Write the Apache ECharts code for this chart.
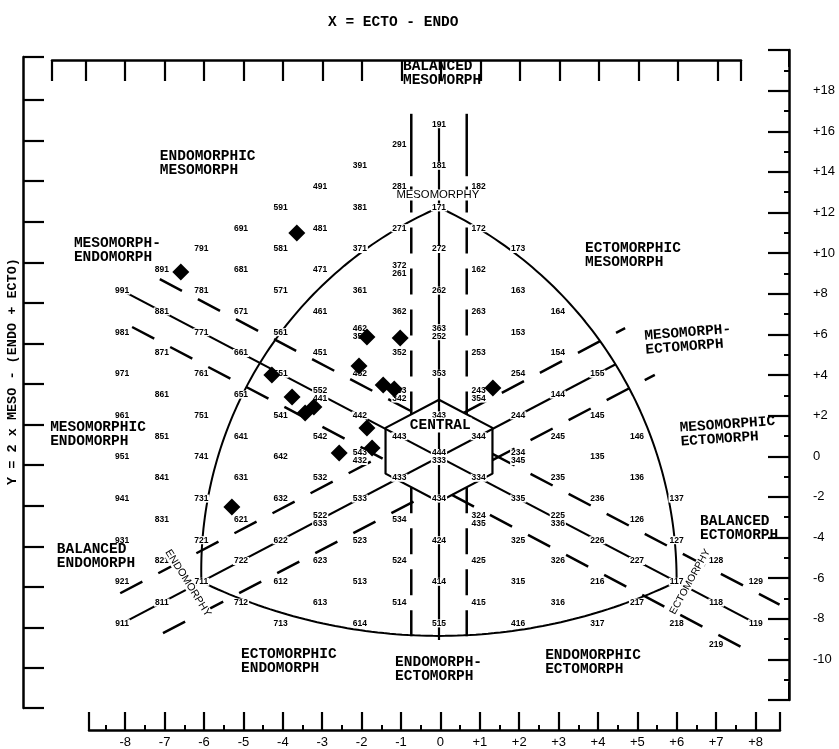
<!DOCTYPE html>
<html><head><meta charset="utf-8">
<script src="https://cdn.jsdelivr.net/npm/echarts@6/dist/echarts.min.js"></script>
<style>html,body{margin:0;padding:0;background:#fff}#c{width:839px;height:749px}</style>
</head><body><div id="c"></div>
<script>
// ================= DATA =================
// somatotype reference labels: [label, X = ECTO - ENDO, Y = 2*MESO - (ENDO+ECTO)]
const somatotypes = [
  ['191',0,16],
  ['291',-1,15],
  ['391',-2,14],['181',0,14],
  ['491',-3,13],['281',-1,13],['182',1,13],
  ['591',-4,12],['381',-2,12],['171',0,12],
  ['691',-5,11],['481',-3,11],['271',-1,11],['172',1,11],
  ['791',-6,10],['581',-4,10],['371',-2,10],['272',0,10],['173',2,10],
  ['891',-7,9],['681',-5,9],['471',-3,9],['372\n261',-1,9],['162',1,9],
  ['991',-8,8],['781',-6,8],['571',-4,8],['361',-2,8],['262',0,8],['163',2,8],
  ['881',-7,7],['671',-5,7],['461',-3,7],['362',-1,7],['263',1,7],['164',3,7],
  ['981',-8,6],['771',-6,6],['561',-4,6],['462\n351',-2,6],['363\n252',0,6],['153',2,6],
  ['871',-7,5],['661',-5,5],['451',-3,5],['352',-1,5],['253',1,5],['154',3,5],
  ['971',-8,4],['761',-6,4],['551',-4,4],['452',-2,4],['353',0,4],['254',2,4],['155',4,4],
  ['861',-7,3],['651',-5,3],['552\n441',-3,3],['453\n342',-1,3],['243\n354',1,3],['144',3,3],
  ['961',-8,2],['751',-6,2],['541',-4,2],['442',-2,2],['343',0,2],['244',2,2],['145',4,2],
  ['851',-7,1],['641',-5,1],['542',-3,1],['443',-1,1],['344',1,1],['245',3,1],['146',5,1],
  ['951',-8,0],['741',-6,0],['642',-4,0],['543\n432',-2,0],['444\n333',0,0],['234\n345',2,0],['135',4,0],
  ['841',-7,-1],['631',-5,-1],['532',-3,-1],['433',-1,-1],['334',1,-1],['235',3,-1],['136',5,-1],
  ['941',-8,-2],['731',-6,-2],['632',-4,-2],['533',-2,-2],['434',0,-2],['335',2,-2],['236',4,-2],['137',6,-2],
  ['831',-7,-3],['621',-5,-3],['522\n633',-3,-3],['534',-1,-3],['324\n435',1,-3],['225\n336',3,-3],['126',5,-3],
  ['931',-8,-4],['721',-6,-4],['622',-4,-4],['523',-2,-4],['424',0,-4],['325',2,-4],['226',4,-4],['127',6,-4],
  ['821',-7,-5],['722',-5,-5],['623',-3,-5],['524',-1,-5],['425',1,-5],['326',3,-5],['227',5,-5],['128',7,-5],
  ['921',-8,-6],['711',-6,-6],['612',-4,-6],['513',-2,-6],['414',0,-6],['315',2,-6],['216',4,-6],['117',6,-6],['129',8,-6],
  ['811',-7,-7],['712',-5,-7],['613',-3,-7],['514',-1,-7],['415',1,-7],['316',3,-7],['217',5,-7],['118',7,-7],
  ['911',-8,-8],['713',-4,-8],['614',-2,-8],['515',0,-8],['416',2,-8],['317',4,-8],['218',6,-8],['119',8,-8],
  ['219',7,-9]
];

// plotted subjects (black diamonds)
const subjectX = [-6.52, -3.59, -1.82, -0.98, -2.02, -4.22, -1.41, -1.13, -3.71, -3.16, -3.38, -1.82, -1.69, -2.52, -5.23, 1.36];
const subjectY = [ 8.90, 10.77,  5.77,  5.72,  4.38,  3.94,  3.46,  3.27,  2.88,  2.40,  2.12,  1.39,  0.43,  0.19, -2.40, 3.32];

// region names
const regionNames = [
  'BALANCED\nMESOMORPH','ENDOMORPHIC\nMESOMORPH','MESOMORPH-\nENDOMORPH','ECTOMORPHIC\nMESOMORPH',
  'MESOMORPH-\nECTOMORPH','MESOMORPHIC\nECTOMORPH','MESOMORPHIC\nENDOMORPH','BALANCED\nENDOMORPH',
  'BALANCED\nECTOMORPH','ECTOMORPHIC\nENDOMORPH','ENDOMORPH-\nECTOMORPH','ENDOMORPHIC\nECTOMORPH'
];
const axisNames = ['MESOMORPHY','ENDOMORPHY','ECTOMORPHY'];
const centralName = 'CENTRAL';

// tick labels
const xTicks = [-8,-7,-6,-5,-4,-3,-2,-1,0,1,2,3,4,5,6,7,8];
const yTicks = [-10,-8,-6,-4,-2,0,2,4,6,8,10,12,14,16,18];
const titleX = 'X = ECTO - ENDO';
const titleY = 'Y = 2 x MESO - (ENDO + ECTO)';

// ================= GEOMETRY / LAYOUT =================
const ORX = 439, ORY = 457, PXX = 39.6, PXY = 20.8, W = 839, H = 749;
// somatochart frame: vertices 711, 171, 117 and a point on each arc
const arcs = [
  {from:[-6,-6], via:[-5.03,2.74], to:[0,12]},
  {from:[0,12],  via:[4.95,2.75],  to:[6,-6]},
  {from:[-6,-6], via:[0,-8.6],     to:[6,-6]}
];
// spokes through the centre
const spokes = [
  [[0,16],[0,-8.8]],
  [[-8,8],[8,-8]],
  [[-8,-8],[4.45,4.45]]
];
// boundaries X+Y=c  : [c, xFrom, xTo]
const downBounds = [[1.5,-7.05,-0.625],[1.5,1.35,8.6],[-1.5,-7.75,-1.35],[-1.5,0.325,7.85]];
// boundaries Y-X=d  : [d, xFrom, xTo]
const upBounds = [[1.5,-8.05,-1.35],[1.5,0.625,4.7],[-1.5,-6.97,-0.325],[-1.5,1.35,5.45]];
// vertical boundaries: [x, yTop, yBottom, dashed]
const vBounds = [
  [-0.7,16.5,13.5,false],[-0.7,13.0,2.05,true],[-0.7,-1.45,-8.9,true],
  [0.7,16.5,13.5,false],[0.7,13.0,2.05,true],[0.7,-1.45,-8.9,true]
];
const hexagon = [[0,2.75],[1.35,1.4],[1.35,-0.8],[0,-2.15],[-1.35,-0.8],[-1.35,1.4],[0,2.75]];
const regionLayout = [
  [-0.91,18.46,0],[-7.05,14.13,0],[-9.22,9.95,0],[3.69,9.71,0],
  [5.2,5.48,4.5],[6.09,1.06,4],[-9.82,1.1,0],[-9.65,-4.76,0],
  [6.59,-3.41,0],[-5.0,-9.81,0],[-1.11,-10.19,0],[2.68,-9.86,0]
];
const axisNameLayout = [[-0.03,12.6,0,11.3],[-6.34,-6.06,-58,10.6],[6.34,-6.0,61,10.2]];
const centralLayout = [0.03,1.54];

function arcPoints(a) {
  const A=[a.from[0]*PXX,a.from[1]*PXY], B=[a.via[0]*PXX,a.via[1]*PXY], C=[a.to[0]*PXX,a.to[1]*PXY];
  const d = 2*(A[0]*(B[1]-C[1]) + B[0]*(C[1]-A[1]) + C[0]*(A[1]-B[1]));
  const sa=A[0]*A[0]+A[1]*A[1], sb=B[0]*B[0]+B[1]*B[1], sc=C[0]*C[0]+C[1]*C[1];
  const ux = (sa*(B[1]-C[1]) + sb*(C[1]-A[1]) + sc*(A[1]-B[1]))/d;
  const uy = (sa*(C[0]-B[0]) + sb*(A[0]-C[0]) + sc*(B[0]-A[0]))/d;
  const r = Math.hypot(A[0]-ux, A[1]-uy);
  const norm = t => { while(t<0) t+=2*Math.PI; while(t>=2*Math.PI) t-=2*Math.PI; return t; };
  const a1=Math.atan2(A[1]-uy,A[0]-ux), am=Math.atan2(B[1]-uy,B[0]-ux), a2=Math.atan2(C[1]-uy,C[0]-ux);
  const d12=norm(a2-a1), d1m=norm(am-a1);
  const sweep = d1m < d12 ? d12 : d12-2*Math.PI;
  const pts=[];
  for (let i=0;i<=80;i++){ const t=a1+sweep*i/80; pts.push([(ux+r*Math.cos(t))/PXX,(uy+r*Math.sin(t))/PXY]); }
  return pts;
}

const INK = '#000';
function lineSeries(points, type, width) {
  return {type:'line', xAxisIndex:0, yAxisIndex:0, data:points, symbol:'none', silent:true,
    animation:false, z:2, lineStyle:{color:INK, width:width, type:type, cap:'butt', opacity:1}};
}

const series = [];
arcs.forEach(a => series.push(lineSeries(arcPoints(a),'solid',2)));
spokes.forEach(s => series.push(lineSeries(s,'solid',2.2)));
downBounds.forEach(b => series.push(lineSeries([[b[1],b[0]-b[1]],[b[2],b[0]-b[2]]],[25,18],2.5)));
upBounds.forEach(b => series.push(lineSeries([[b[1],b[0]+b[1]],[b[2],b[0]+b[2]]],[25,18],2.5)));
vBounds.forEach(v => series.push(lineSeries([[v[0],v[1]],[v[0],v[2]]], v[3]?[26,15]:'solid', 2.5)));
series.push(lineSeries(hexagon,'solid',2.2));

const clear = {color:'rgba(0,0,0,0)', opacity:1};
// somatotype labels
series.push({type:'scatter', xAxisIndex:0, yAxisIndex:0, silent:true, animation:false, z:3,
  symbolSize:1, itemStyle:clear,
  data: somatotypes.map(s => ({name:s[0], value:[s[1],s[2]]})),
  label:{show:true, position:'inside', formatter:'{b}', color:'#000', fontFamily:'Liberation Sans',
    fontWeight:'bold', fontSize:8.5, lineHeight:8, backgroundColor:'#fff', padding:[0,1]}
});
// region names
series.push({type:'scatter', xAxisIndex:0, yAxisIndex:0, silent:true, animation:false, z:3,
  symbolSize:1, itemStyle:clear,
  data: regionNames.map((n,i) => ({name:n, value:[regionLayout[i][0],regionLayout[i][1]], label:{rotate:regionLayout[i][2]}})),
  label:{show:true, position:'inside', align:'left', verticalAlign:'middle', formatter:'{b}', color:'#000',
    fontFamily:'Liberation Mono', fontWeight:'bold', fontSize:14.5, lineHeight:14}
});
// axis names inside chart
series.push({type:'scatter', xAxisIndex:0, yAxisIndex:0, silent:true, animation:false, z:3,
  symbolSize:1, itemStyle:clear,
  data: axisNames.map((n,i) => ({name:n, value:[axisNameLayout[i][0],axisNameLayout[i][1]],
     label:{rotate:axisNameLayout[i][2], fontSize:axisNameLayout[i][3]}})),
  label:{show:true, position:'inside', align:'center', verticalAlign:'middle', formatter:'{b}', color:'#000',
    fontFamily:'Liberation Sans', backgroundColor:'#fff', padding:[0,1]}
});
series.push({type:'scatter', xAxisIndex:0, yAxisIndex:0, silent:true, animation:false, z:3,
  symbolSize:1, itemStyle:clear,
  data:[{name:centralName, value:centralLayout}],
  label:{show:true, position:'inside', formatter:'{b}', color:'#000', fontFamily:'Liberation Mono',
    fontWeight:'bold', fontSize:14.5, backgroundColor:'#fff', padding:[0,1]}
});
// subjects
series.push({type:'scatter', xAxisIndex:0, yAxisIndex:0, silent:true, animation:false, z:5,
  symbol:'diamond', symbolSize:17, itemStyle:{color:'#000', opacity:1},
  data: subjectX.map((x,i) => [x, subjectY[i]])
});

const fmtSigned = v => v > 0 ? '+' + v : String(v);
const hiddenX = i => ({type:'value', gridIndex:i, show:false, min:0, max:1, splitLine:{show:false}});
const hiddenY = i => ({type:'value', gridIndex:i, show:false, min:0, max:1, splitLine:{show:false}});
const lineSt = {show:true, lineStyle:{color:INK, width:2.5}};

const topMin = -9.85, topMax = 7.59;
const botMin = -8.92, botMax = 8.62;
const leftMin = -11.97, leftMax = 20.12;

const option = {
  backgroundColor:'#fff',
  animation:false,
  title:{text:titleX, left:323, top:10, textStyle:{fontFamily:'Liberation Mono', fontSize:14.5, fontWeight:'bold', color:'#000'}},
  grid:[
    {left:0, right:0, top:0, bottom:0},
    {left:52, right:W-741, top:36, height:24},
    {left:89, right:W-780, bottom:H-730, height:24},
    {left:23, width:22, top:57, bottom:H-708},
    {left:789, right:W-810, top:50, bottom:H-700}
  ],
  xAxis:[
    {type:'value', gridIndex:0, show:false, min:-ORX/PXX, max:(W-ORX)/PXX, splitLine:{show:false}},
    {type:'value', gridIndex:1, position:'top', min:topMin, max:topMax, splitLine:{show:false},
      axisLine:lineSt, axisLabel:{show:false},
      axisTick:{show:true, inside:true, length:21, lineStyle:{color:INK, width:2.2},
        customValues:[topMin].concat([-9].concat(xTicks.filter(v=>v<8)), [topMax])}},
    {type:'value', gridIndex:2, position:'bottom', min:botMin, max:botMax, splitLine:{show:false},
      axisLine:lineSt,
      axisTick:{show:true, inside:true, length:18, lineStyle:{color:INK, width:2.2},
        customValues:[botMin].concat(xTicks, [botMax])},
      axisLabel:{show:true, customValues:xTicks, formatter:fmtSigned, margin:6,
        fontFamily:'Liberation Sans', fontSize:13, color:'#000'}},
    {type:'value', gridIndex:2, position:'bottom', min:botMin, max:botMax, splitLine:{show:false},
      axisLine:{show:false}, axisLabel:{show:false},
      axisTick:{show:true, inside:true, length:5, lineStyle:{color:INK, width:2},
        customValues:xTicks.filter(v=>v<8).map(v=>v+0.5).concat([-8.5])}},
    hiddenX(3), hiddenX(4)
  ],
  yAxis:[
    {type:'value', gridIndex:0, show:false, min:-(H-ORY)/PXY, max:ORY/PXY, splitLine:{show:false}},
    hiddenY(1), hiddenY(2),
    {type:'value', gridIndex:3, position:'left', min:leftMin, max:leftMax, splitLine:{show:false},
      axisLine:lineSt, axisLabel:{show:false},
      axisTick:{show:true, inside:true, length:21, lineStyle:{color:INK, width:2.2},
        customValues:[leftMin].concat(yTicks, [leftMax])},
      name:titleY, nameLocation:'middle', nameRotate:90, nameGap:3,
      nameTextStyle:{fontFamily:'Liberation Mono', fontWeight:'bold', fontSize:13.5, color:'#000', padding:[0,0,0,22]}},
    {type:'value', gridIndex:4, position:'right', min:-12, max:20, interval:2, splitLine:{show:false},
      axisLine:lineSt,
      axisTick:{show:true, inside:true, length:21, lineStyle:{color:INK, width:2.2}},
      minorTick:{show:true, splitNumber:2, length:5, lineStyle:{color:INK, width:2}},
      axisLabel:{show:true, margin:3, fontFamily:'Liberation Sans', fontSize:13, color:'#000',
        formatter: v => yTicks.indexOf(v) >= 0 ? fmtSigned(v) : ''}}
  ],
  graphic:[
    {type:'polyline', shape:{points:[[789,50],[789,67]]}, style:{stroke:INK, lineWidth:2}},
    {type:'polyline', shape:{points:[[789,682],[789,700]]}, style:{stroke:INK, lineWidth:2}}
  ],
  series: series
};
const chart = echarts.init(document.getElementById('c'), null, {renderer:'canvas'});
chart.setOption(option);
</script>
</body></html>
